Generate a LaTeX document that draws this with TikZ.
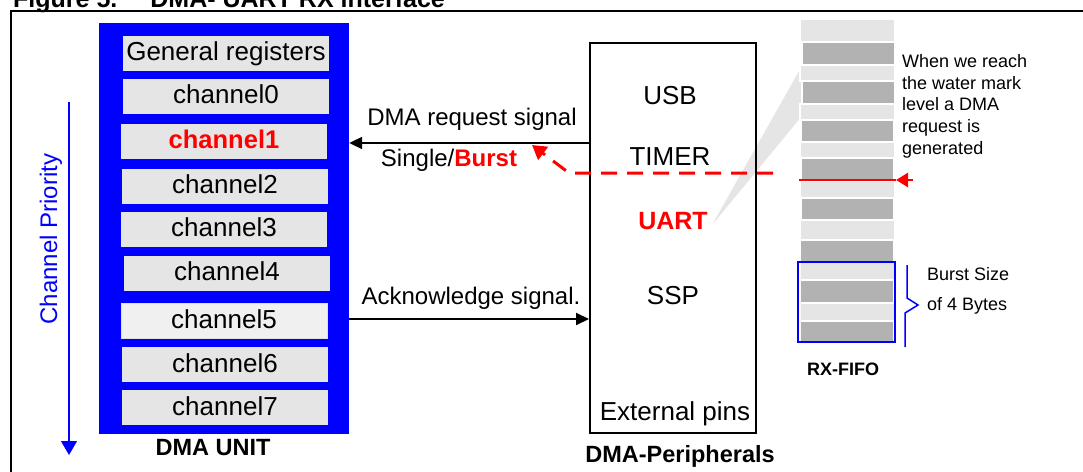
\documentclass[tikz,border=0pt]{standalone}
\usepackage{fontspec}
\setmainfont{Liberation Sans}
\usetikzlibrary{arrows.meta}
\definecolor{lightcell}{gray}{0.90}
\definecolor{darkcell}{gray}{0.70}
\begin{document}
\begin{tikzpicture}[x=1pt,y=-1pt,
  reg/.style={fill=lightcell, minimum width=206pt, minimum height=35pt, inner sep=0pt,
              font=\fontsize{26}{31}\selectfont, text height=18.7pt, text depth=3pt},
  big/.style={font=\fontsize{26}{31}\selectfont, inner sep=0pt},
  siglabel/.style={font=\fontsize{24}{29}\selectfont, inner sep=0pt},
  bigbold/.style={font=\bfseries\fontsize{23.5}{28}\selectfont, inner sep=0pt},
  small/.style={font=\fontsize{18}{21.8}\selectfont, inner sep=0pt, align=left},
  sig/.style={line width=2pt, -{Triangle[length=13pt,width=12pt]}},
  redsig/.style={red, line width=3pt, dash pattern=on 16pt off 10pt, -{Triangle[length=14pt,width=16pt]}},
  lcell/.style={fill=lightcell, draw=white, line width=1.5pt},
  dcell/.style={fill=darkcell, draw=white, line width=1.5pt}
]
\useasboundingbox (0,0) rectangle (1083,471);
\clip (0,0) rectangle (1083,471);

% title (cut off at top, as in the reference)
\node[anchor=base west, font=\bfseries\fontsize{25}{30}\selectfont, inner sep=0pt] (title) at (13,7)
  {Figure 5.\hspace{33pt}DMA- UART RX interface};

% frame
\draw[line width=2pt] (11,480) -- (11,11) -- (1090,11);

% DMA unit
\node[fill=blue, minimum width=250pt, minimum height=411pt, inner sep=0pt] (dmaunit) at (224,228.5) {};
\node[reg] (genreg) at (226,53) {General registers};
\node[reg] (ch0) at (226,96) {channel0};
\node[reg, text=red, font=\bfseries\fontsize{25.5}{31}\selectfont] (ch1) at (224,141) {channel1};
\node[reg] (ch2) at (225,186) {channel2};
\node[reg] (ch3) at (224,229) {channel3};
\node[reg] (ch4) at (227,273) {channel4};
\node[reg, fill=gray!12, draw=gray!25, line width=0.6pt] (ch5) at (224,321) {channel5};
\node[reg] (ch6) at (225,364.5) {channel6};
\node[reg] (ch7) at (225,407.5) {channel7};
\node[bigbold] (dmalabel) at (213,448) {DMA UNIT};

% channel priority
\coordinate (prtop) at (69,102);
\coordinate (prbot) at (69,455);
\draw[blue, line width=1.3pt, -{Triangle[length=14pt,width=16pt]}] (prtop) -- (prbot);
\node[blue, rotate=90, font=\fontsize{24}{28}\selectfont, inner sep=0pt] (prio) at (51,239) {Channel Priority};

% callout wedge
\fill[lightcell] (712,225) -- (829,18) -- (840,70) -- cycle;

% peripherals box
\node[draw, line width=2pt, minimum width=166pt, minimum height=390pt, inner sep=0pt] (periph) at (673,238) {};
\node[big] (usb) at (670,96) {USB};
\node[big] (timer) at (670,157) {TIMER};
\node[big, text=red, font=\bfseries\fontsize{25}{30}\selectfont] (uart) at (673,221) {UART};
\node[big] (ssp) at (673,296) {SSP};
\node[big] (extpins) at (675,414) {External pins};
\node[bigbold] (perlabel) at (680,456) {DMA-Peripherals};

% signals
\draw[sig] (periph.west |- 0,143) -- (dmaunit.east |- 0,143);
\draw[sig] (dmaunit.east |- 0,319) -- (periph.west |- 0,319);
\node[siglabel] (reqtext) at (472,119) {DMA request signal};
\node[siglabel] (singleburst) at (449,160) {Single/\textcolor{red}{\bfseries Burst}};
\node[siglabel] (acktext) at (471,298) {Acknowledge signal.};

% red dashed request
\coordinate (dashstart) at (773,173);
\coordinate (dashbend) at (569,173);
\coordinate (dashend) at (532,145);
\draw[redsig] (dashstart) -- (dashbend) -- (dashend);

% RX FIFO
\fill[lcell] (800,19) rectangle (895,42);
\fill[dcell] (802,42) rectangle (895,65);
\fill[lcell] (800,65) rectangle (895,81);
\fill[dcell] (802,81) rectangle (895,104);
\fill[lcell] (800,104) rectangle (895,120);
\fill[dcell] (801,120) rectangle (894,142);
\fill[lcell] (800,142) rectangle (895,158);
\fill[dcell] (801,158) rectangle (894,181);
\fill[lcell] (800,181) rectangle (895,198);
\fill[dcell] (801,198) rectangle (894,220);
\fill[lcell] (800,220) rectangle (895,240);
\fill[dcell] (800,240) rectangle (894,262);
\fill[lcell] (800,262) rectangle (895,280);
\fill[dcell] (800,280) rectangle (894,303);
\fill[lcell] (800,303) rectangle (895,321);
\fill[dcell] (800,321) rectangle (894,342);
\draw[blue, line width=2pt] (798,262) rectangle (895,342);
\node[font=\bfseries\fontsize{18}{21}\selectfont, inner sep=0pt] (fifolabel) at (843,369) {RX-FIFO};

% water mark
\coordinate (wmleft) at (799,180);
\coordinate (wmright) at (896,180);
\coordinate (wmtail) at (913,180);
\draw[red, line width=2.5pt] (wmleft) -- (wmright);
\draw[red, line width=2.5pt, -{Triangle[length=12pt,width=14pt]}] (wmtail) -- (wmright);
\node[small, anchor=north west] (wmtext) at (902,54)
  {When we reach\\the water mark\\level a DMA\\request is\\generated};

% burst brace
\draw[blue, line width=1.5pt] (907,265) -- (907,298) -- (918,305) -- (905,313) -- (905,347);
\node[small, anchor=north west, font=\fontsize{18}{30}\selectfont] (bursttext) at (927,267)
  {Burst Size\\of 4 Bytes};
\end{tikzpicture}
\end{document}
